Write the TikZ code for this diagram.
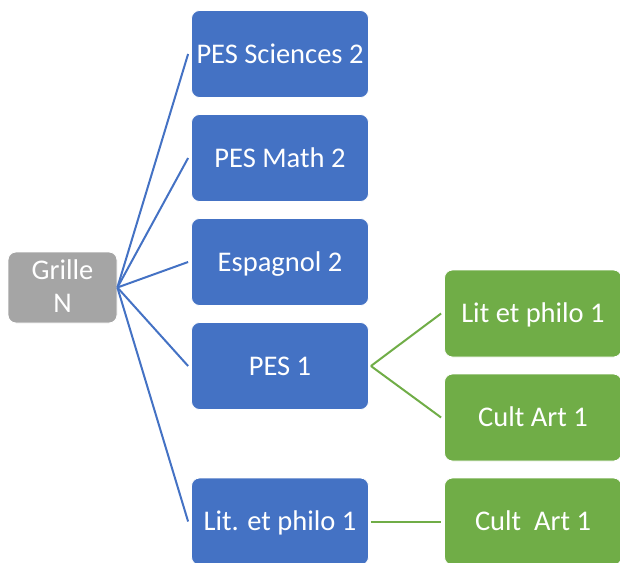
\documentclass[tikz,border=0pt]{standalone}
\usepackage{fontspec}
\setmainfont{Carlito}
\definecolor{offblue}{HTML}{4472C4}
\definecolor{offgreen}{HTML}{70AD47}
\definecolor{offgray}{HTML}{A5A5A5}
\tikzset{
  boxfont/.style={font=\fontsize{28.5}{32.4}\selectfont},
  boxbase/.style={rectangle, rounded corners=8pt, draw=white, line width=0.8pt,
    text=white, boxfont, inner sep=0pt,
    minimum width=177pt, minimum height=87pt, text height=18pt, text depth=0pt},
  bluebox/.style={boxbase, fill=offblue},
  greenbox/.style={boxbase, fill=offgreen},
  graybox/.style={rectangle, rounded corners=8pt, draw=white, line width=0.8pt,
    fill=offgray, minimum width=109pt, minimum height=71pt, inner sep=0pt},
  graytext/.style={text=white, boxfont, align=center, inner sep=0pt},
  blueline/.style={draw=offblue, line width=2pt},
  greenline/.style={draw=offgreen, line width=2pt}
}
\begin{document}
\begin{tikzpicture}[x=1pt,y=-1pt]
\useasboundingbox (0,0) rectangle (620,562);
\clip (0,0) rectangle (620,562);
\node[graybox] (g) at (62.5,287.5) {};
\node[graytext] (gt) at (62.5,286) {Grille\\N};
\node[bluebox] (b1) at (280,54) {PES Sciences 2};
\node[bluebox] (b2) at (280,158) {PES Math 2};
\node[bluebox] (b3) at (280,262) {Espagnol 2};
\node[bluebox] (b4) at (280,366) {PES 1};
\node[bluebox] (b5) at (280,521.5) {Lit. et philo 1};
\node[greenbox] (c1) at (533,313.5) {Lit et philo 1};
\node[greenbox] (c2) at (533,417.5) {Cult Art 1};
\node[greenbox] (c3) at (533,521.5) {Cult~ Art 1};
\foreach \b in {b1,b2,b3,b4,b5}
  \draw[blueline] (g.east) -- ([xshift=-3pt]\b.west);
\draw[greenline] ([xshift=2pt]b4.east) -- ([xshift=-3pt]c1.west);
\draw[greenline] ([xshift=2pt]b4.east) -- ([xshift=-3pt]c2.west);
\draw[greenline] ([xshift=2pt]b5.east) -- ([xshift=-3pt]c3.west);
\end{tikzpicture}
\end{document}
